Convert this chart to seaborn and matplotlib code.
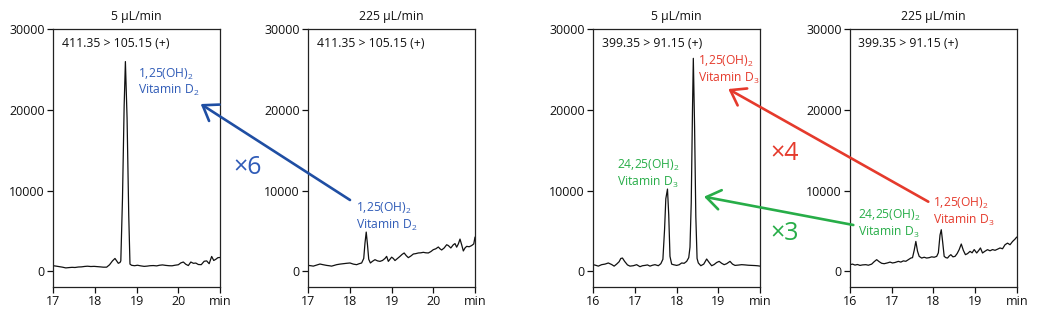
import matplotlib
matplotlib.use("Agg")
import matplotlib.pyplot as plt
from matplotlib.patches import FancyArrowPatch
import seaborn as sns
import pandas as pd

# ---------------- data ----------------
titles = ["5 µL/min", "225 µL/min", "5 µL/min", "225 µL/min"]
transitions = ["411.35 > 105.15 (+)", "411.35 > 105.15 (+)",
               "399.35 > 91.15 (+)", "399.35 > 91.15 (+)"]
x_ranges = [(17, 21), (17, 21), (16, 20), (16, 20)]
x_ticks_d2 = [17, 18, 19, 20, 21]
x_ticks_d3 = [16, 17, 18, 19, 20]
x_ticklabels_d2 = ["17", "18", "19", "20", "min"]
x_ticklabels_d3 = ["16", "17", "18", "19", "min"]
y_ticks = [0, 10000, 20000, 30000]

# Panel A: 411.35>105.15, 5 uL/min
time_a = [17.00, 17.08, 17.15, 17.22, 17.30, 17.38, 17.45, 17.52, 17.60, 17.68, 17.75,
          17.82, 17.90, 17.98, 18.05, 18.12, 18.20, 18.28, 18.35, 18.42, 18.48, 18.52,
          18.56, 18.60, 18.62, 18.66, 18.70, 18.73, 18.77, 18.81, 18.84, 18.88, 18.95,
          19.02, 19.10, 19.18, 19.25, 19.32, 19.40, 19.48, 19.55, 19.62, 19.70, 19.78,
          19.85, 19.92, 20.00, 20.06, 20.12, 20.18, 20.24, 20.30, 20.36, 20.42, 20.48,
          20.55, 20.62, 20.68, 20.74, 20.80, 20.85, 20.90, 20.95, 21.00]
sig_a = [700, 640, 580, 520, 430, 470, 500, 480, 540, 560, 610, 640, 600, 620, 590, 560,
         520, 520, 820, 1300, 1600, 1300, 1000, 1100, 1300, 9000, 20500, 26000, 19000,
         7000, 900, 750, 700, 760, 680, 620, 650, 700, 720, 680, 760, 800, 740, 700, 690,
         760, 820, 1050, 1160, 880, 720, 1160, 1000, 1030, 850, 830, 1250, 1300, 950,
         1850, 1350, 1500, 1700, 1720]

# Panel B: 411.35>105.15, 225 uL/min
time_b = [17.00, 17.06, 17.12, 17.20, 17.28, 17.36, 17.44, 17.50, 17.56, 17.62, 17.68,
          17.76, 17.84, 17.92, 18.00, 18.08, 18.16, 18.22, 18.28, 18.33, 18.36, 18.39,
          18.42, 18.45, 18.49, 18.54, 18.60, 18.66, 18.72, 18.78, 18.84, 18.88, 18.92,
          18.96, 19.00, 19.04, 19.08, 19.14, 19.20, 19.25, 19.30, 19.35, 19.40, 19.46,
          19.52, 19.58, 19.64, 19.70, 19.76, 19.82, 19.88, 19.94, 20.00, 20.06, 20.12,
          20.16, 20.20, 20.26, 20.32, 20.36, 20.42, 20.48, 20.52, 20.56, 20.60, 20.64,
          20.68, 20.72, 20.76, 20.80, 20.86, 20.92, 20.97, 21.00]
sig_b = [740, 700, 650, 780, 910, 820, 740, 700, 650, 740, 830, 900, 950, 1000, 1040, 900,
         830, 950, 1040, 1600, 3500, 4870, 3300, 1500, 1040, 1250, 1450, 1300, 1240, 1350,
         1600, 1860, 1240, 1500, 1760, 1600, 1340, 1600, 1860, 2100, 2280, 1950, 1700,
         1900, 2150, 2200, 2280, 2300, 2360, 2300, 2280, 2450, 2690, 2800, 3020, 2800,
         2650, 2900, 3300, 3200, 2900, 3300, 3440, 3000, 3400, 4000, 3300, 2530, 2900,
         3100, 3050, 3200, 3400, 4250]

# Panel C: 399.35>91.15, 5 uL/min
time_c = [16.00, 16.06, 16.12, 16.20, 16.28, 16.36, 16.44, 16.50, 16.56, 16.62, 16.66,
          16.70, 16.75, 16.82, 16.88, 16.96, 17.04, 17.12, 17.18, 17.24, 17.30, 17.36,
          17.42, 17.48, 17.56, 17.62, 17.67, 17.71, 17.74, 17.78, 17.81, 17.84, 17.88,
          17.92, 18.00, 18.06, 18.12, 18.18, 18.24, 18.29, 18.32, 18.35, 18.38, 18.40,
          18.43, 18.46, 18.49, 18.52, 18.58, 18.65, 18.72, 18.78, 18.84, 18.90, 18.96,
          19.02, 19.08, 19.14, 19.20, 19.28, 19.34, 19.40, 19.48, 19.56, 19.64, 19.72,
          19.80, 19.88, 19.95, 20.00]
sig_c = [830, 750, 650, 830, 900, 1040, 850, 650, 900, 1200, 1600, 1650, 1250, 800, 650,
         700, 830, 580, 700, 740, 800, 650, 760, 830, 700, 950, 1500, 5200, 9000, 10200,
         7000, 1860, 900, 830, 740, 820, 1040, 1000, 1240, 1700, 3000, 8500, 20000, 26400,
         18000, 6800, 1600, 1040, 700, 900, 1530, 1100, 700, 850, 1100, 1240, 1000, 830,
         950, 1240, 900, 740, 780, 830, 800, 760, 740, 720, 690, 650]

# Panel D: 399.35>91.15, 225 uL/min
time_d = [16.00, 16.06, 16.12, 16.18, 16.24, 16.30, 16.38, 16.44, 16.52, 16.58, 16.64,
          16.70, 16.76, 16.82, 16.90, 16.96, 17.02, 17.08, 17.16, 17.22, 17.28, 17.34,
          17.40, 17.46, 17.50, 17.54, 17.58, 17.62, 17.66, 17.72, 17.78, 17.84, 17.90,
          17.96, 18.02, 18.08, 18.12, 18.16, 18.19, 18.22, 18.26, 18.30, 18.34, 18.38,
          18.42, 18.47, 18.52, 18.57, 18.62, 18.67, 18.72, 18.77, 18.82, 18.88, 18.93,
          18.98, 19.04, 19.09, 19.13, 19.18, 19.24, 19.30, 19.36, 19.42, 19.48, 19.54,
          19.60, 19.66, 19.72, 19.78, 19.84, 19.90, 19.96, 20.00]
sig_d = [830, 900, 780, 850, 740, 800, 830, 760, 900, 1200, 1450, 1200, 1000, 950, 1050,
         1150, 1040, 1100, 1240, 1150, 1300, 1250, 1450, 1650, 1700, 2600, 3710, 2500,
         1860, 1650, 1750, 1650, 1700, 1800, 1750, 1860, 2300, 4500, 5160, 3800, 1860,
         1700, 1650, 1900, 2070, 1800, 1860, 2200, 2700, 3390, 2600, 2070, 2200, 2480,
         2300, 2700, 2280, 2600, 2900, 2280, 2500, 2690, 2550, 2700, 2610, 2750, 2900,
         2800, 3300, 3500, 3300, 3700, 4000, 4250]

times = [time_a, time_b, time_c, time_d]
signals = [sig_a, sig_b, sig_c, sig_d]

# compound labels
label_panels = [0, 1, 2, 2, 3, 3]
label_texts = [
    "1,25(OH)$_\\mathregular{2}$\nVitamin D$_\\mathregular{2}$",
    "1,25(OH)$_\\mathregular{2}$\nVitamin D$_\\mathregular{2}$",
    "1,25(OH)$_\\mathregular{2}$\nVitamin D$_\\mathregular{3}$",
    "24,25(OH)$_\\mathregular{2}$\nVitamin D$_\\mathregular{3}$",
    "24,25(OH)$_\\mathregular{2}$\nVitamin D$_\\mathregular{3}$",
    "1,25(OH)$_\\mathregular{2}$\nVitamin D$_\\mathregular{3}$",
]
label_x = [19.04, 18.14, 18.52, 16.56, 16.20, 18.00]
label_y = [23400, 6700, 25000, 12100, 5840, 7350]
label_colors = ["blue", "blue", "red", "green", "green", "red"]

fold_texts = ["×6", "×4", "×3"]
fold_colors = ["blue", "red", "green"]

# ---------------- styling ----------------
sns.set_style("ticks")
plt.rcParams["font.family"] = ["Open Sans", "DejaVu Sans"]
plt.rcParams["mathtext.fontset"] = "custom"
plt.rcParams["mathtext.rm"] = "Open Sans"
plt.rcParams["mathtext.it"] = "Open Sans:italic"
plt.rcParams["mathtext.bf"] = "Open Sans:bold"

text_col = {"blue": "#2f5bb7", "red": "#e53a2c", "green": "#27ad48"}
arrow_col = {"blue": "#1f4ea3", "red": "#e53a2c", "green": "#27ad48"}

W, H = 1040, 324
fig = plt.figure(figsize=(W / 100, H / 100), dpi=100)

ax_left_px = [53.3, 308.3, 593.3, 850.0]
ax_w_px = 166.7
ax_top_px, ax_bot_px = 29.3, 286.7

axes = []
for i in range(4):
    ax = fig.add_axes([ax_left_px[i] / W, 1 - ax_bot_px / H,
                       ax_w_px / W, (ax_bot_px - ax_top_px) / H])
    df = pd.DataFrame({"time": times[i], "signal": signals[i]})
    sns.lineplot(data=df, x="time", y="signal", ax=ax, color="#111111",
                 linewidth=0.9, estimator=None, sort=False)
    ax.set_xlim(*x_ranges[i])
    ax.set_ylim(-1900, 30000)
    if i < 2:
        ax.set_xticks(x_ticks_d2)
        ax.set_xticklabels(x_ticklabels_d2)
    else:
        ax.set_xticks(x_ticks_d3)
        ax.set_xticklabels(x_ticklabels_d3)
    ax.set_yticks(y_ticks)
    ax.set_yticklabels([str(v) for v in y_ticks])
    ax.set_xlabel("")
    ax.set_ylabel("")
    for s in ax.spines.values():
        s.set_visible(True)
        s.set_linewidth(0.9)
        s.set_color("#222222")
    ax.tick_params(axis="both", direction="out", length=4, width=0.9,
                   labelsize=9, pad=2, colors="#111111")
    ax.set_title(titles[i], fontsize=8.8, pad=7, color="#111111")
    ax.text(0.05, 0.944, transitions[i], transform=ax.transAxes,
            fontsize=8.8, va="center", ha="left", color="#111111")
    axes.append(ax)

for p, t, x, y, c in zip(label_panels, label_texts, label_x, label_y, label_colors):
    axes[p].text(x, y, t, fontsize=8.7, color=text_col[c], ha="left", va="center",
                 linespacing=1.15)

# arrows (figure pixel positions: tail -> head)
arrow_tail = [(350, 200), (928.3, 201.7), (853.3, 225)]
arrow_head = [(200.7, 104), (728.3, 89), (704, 196.7)]
for (tx, ty), (hx, hy), c in zip(arrow_tail, arrow_head, fold_colors):
    arr = FancyArrowPatch((tx / W, 1 - ty / H), (hx / W, 1 - hy / H),
                          transform=fig.transFigure,
                          arrowstyle="->,head_length=10,head_width=7",
                          color=arrow_col[c], linewidth=1.9, shrinkA=0, shrinkB=0,
                          mutation_scale=1)
    fig.add_artist(arr)

fold_pos = [(248, 167), (785, 154), (785, 234)]
for (fx, fy), t, c in zip(fold_pos, fold_texts, fold_colors):
    fig.text(fx / W, 1 - fy / H, t, fontsize=18, color=text_col[c],
             ha="center", va="center")

fig.savefig("out.png", dpi=100)
